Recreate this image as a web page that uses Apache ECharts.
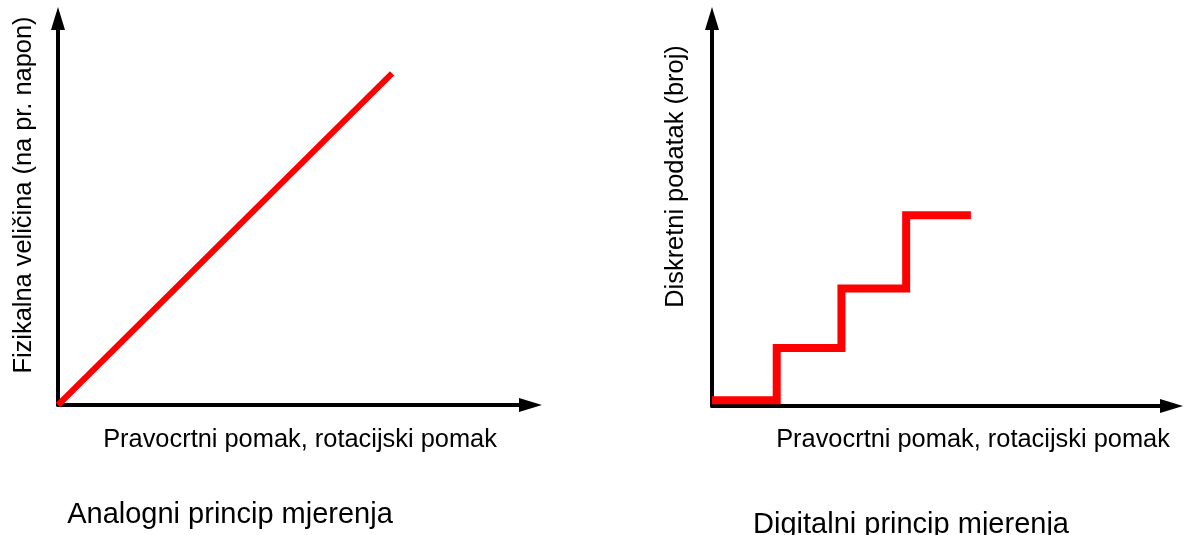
<!DOCTYPE html>
<html>
<head>
<meta charset="utf-8">
<script src="https://cdn.jsdelivr.net/npm/echarts@6/dist/echarts.min.js"></script>
<style>
html,body{margin:0;padding:0;background:#fff;}
#c{width:1184px;height:535px;}
</style>
</head>
<body>
<div id="c"></div>
<script>
// ---- data ----
const analogX = [0, 7.07];
const analogY = [0, 85.8];
const digitalX = [0, 1, 2, 3, 4];
const digitalY = [1.5, 15, 30.3, 49.2, 49.2];
const analogTitle = 'Analogni princip mjerenja';
const digitalTitle = 'Digitalni princip mjerenja';
const xAxisLabel = 'Pravocrtni pomak, rotacijski pomak';
const analogYLabel = 'Fizikalna veličina (na pr. napon)';
const digitalYLabel = 'Diskretni podatak (broj)';

const FONT = '"Liberation Sans", Arial, sans-serif';
const chart = echarts.init(document.getElementById('c'), null, {renderer: 'canvas'});

function axisCommon(extra) {
  return Object.assign({
    type: 'value',
    min: 0,
    axisLine: {show: true, symbol: ['none', 'triangle'], symbolSize: [14, 23],
      lineStyle: {color: '#000', width: 4}},
    axisTick: {show: false},
    axisLabel: {show: false},
    splitLine: {show: false}
  }, extra);
}

function txt(text, x, y, size, rot) {
  return {type: 'text', x: x, y: y, rotation: rot || 0, silent: true,
    style: {text: text, font: size + 'px ' + FONT, fill: '#000', align: 'center', verticalAlign: 'middle'}};
}

chart.setOption({
  animation: false,
  backgroundColor: '#fff',
  grid: [
    {left: 58, top: 18.5, width: 472.5, height: 386.5},
    {left: 712, top: 18.5, width: 459.5, height: 387.5}
  ],
  xAxis: [
    axisCommon({gridIndex: 0, max: 10}),
    axisCommon({gridIndex: 1, max: 7.1})
  ],
  yAxis: [
    axisCommon({gridIndex: 0, max: 100}),
    axisCommon({gridIndex: 1, max: 100})
  ],
  series: [
    {
      type: 'line', xAxisIndex: 0, yAxisIndex: 0, showSymbol: false, symbol: 'none',
      data: analogX.map((x, i) => [x, analogY[i]]),
      lineStyle: {color: '#ff0000', width: 6, cap: 'butt'}
    },
    {
      type: 'line', xAxisIndex: 1, yAxisIndex: 1, showSymbol: false, symbol: 'none', step: 'end',
      data: digitalX.map((x, i) => [x, digitalY[i]]),
      lineStyle: {color: '#ff0000', width: 8, cap: 'butt', join: 'miter'}
    }
  ],
  graphic: [
    txt(analogYLabel, 24, 195, 25.4, Math.PI / 2),
    txt(digitalYLabel, 676, 176.5, 25.4, Math.PI / 2),
    txt(xAxisLabel, 300, 440, 25.4),
    txt(xAxisLabel, 973, 440, 25.4),
    txt(analogTitle, 230, 515, 29),
    txt(digitalTitle, 911, 525, 29)
  ]
});
</script>
</body>
</html>
